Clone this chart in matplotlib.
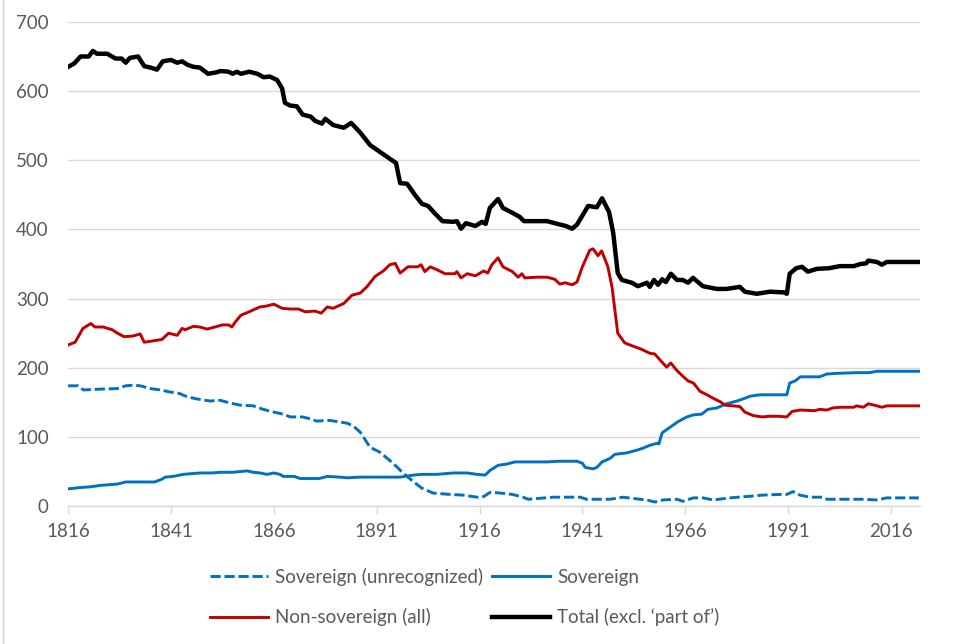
import matplotlib.pyplot as plt
from matplotlib.lines import Line2D

plt.rcParams['font.family'] = ['Lato', 'DejaVu Sans']

# Total (excl. 'part of') - breakpoints
total_years = [1816, 1817.5, 1819, 1821, 1822, 1823, 1825.5, 1827.5, 1829, 1830, 1831, 1833,
               1834.5, 1836, 1837.6, 1839, 1841, 1842.5, 1843.7, 1845, 1846.5, 1848, 1850,
               1852, 1853, 1855, 1856, 1857, 1858, 1860, 1862, 1863.5, 1865, 1866.8, 1868,
               1868.7, 1870, 1871.6, 1873, 1875, 1876, 1877.7, 1878.5, 1880.4, 1883, 1884.8,
               1887, 1889.4, 1891.8, 1894, 1895.7, 1896.7, 1898.4, 1900.3, 1902, 1903.5, 1905,
               1907, 1909.6, 1910.5, 1911.5, 1912.7, 1915, 1916.6, 1917.5, 1918.5, 1920.5,
               1921.7, 1924, 1925.8, 1926.8, 1930, 1932.4, 1935.6, 1937, 1938.5, 1939.7,
               1942.4, 1944.5, 1945.8, 1947.5, 1948.5, 1949.6, 1950.6, 1953, 1954.5, 1956.7,
               1957.4, 1958.4, 1959.4, 1960.4, 1961.3, 1962.5, 1964, 1965.4, 1966.7, 1967.9,
               1970.3, 1973.7, 1976, 1979.3, 1980.5, 1983.4, 1986.6, 1990, 1990.7, 1991.4,
               1993, 1994.4, 1995.8, 1998, 2001, 2003.6, 2007, 2008.6, 2010, 2010.5, 2012.6,
               2013.8, 2015, 2022.8]
total_vals = [635, 640, 650, 650, 658, 654, 654, 647, 647, 641, 648, 650,
              636, 634, 631, 643, 645, 641, 643, 638, 635, 634, 625,
              627, 629, 628, 625, 628, 625, 628, 625, 620, 621, 616, 604,
              583, 579, 578, 566, 563, 557, 553, 560, 551, 547, 554,
              540, 522, 512, 503, 496, 467, 466, 450, 437, 434, 424,
              412, 411, 412, 401, 409, 405, 411, 408, 431, 444,
              431, 424, 418, 412, 412, 412, 407, 405, 401, 407,
              434, 432, 445, 425, 395, 337, 327, 323, 318, 323,
              317, 327, 320, 328, 324, 336, 327, 327, 323, 330,
              318, 314, 314, 317, 310, 307, 310, 309, 307, 336,
              344, 346, 339, 343, 344, 347, 347, 350, 351, 355, 353,
              349, 353, 353]

# Non-sovereign (all)
nonsov_years = [1816, 1817.7, 1819.6, 1821.5, 1822.5, 1824.5, 1826.7, 1828, 1829.6, 1831.8,
                1833.5, 1834.5, 1836.7, 1838.8, 1840.4, 1842.5, 1843.7, 1844.4, 1846.5, 1848,
                1849.8, 1851.7, 1853.4, 1855, 1855.8, 1856.6, 1858, 1860, 1862.6, 1864, 1866,
                1868, 1870, 1872, 1873.6, 1876, 1877.5, 1879, 1880.4, 1883, 1885, 1887,
                1888.6, 1890.6, 1892.6, 1894.2, 1895.5, 1896.7, 1898.6, 1901, 1901.8, 1902.7,
                1904, 1905.6, 1907.6, 1910, 1910.5, 1911.5, 1913, 1915, 1917, 1918, 1919,
                1920.5, 1921.7, 1924, 1925.4, 1926.3, 1927, 1930, 1932.4, 1934.3, 1935.5,
                1936.8, 1938.5, 1939.7, 1941, 1942.8, 1943.6, 1944.8, 1945.7, 1947.2, 1948.2,
                1949, 1949.6, 1951.3, 1953, 1955.3, 1957.4, 1958.6, 1960.4, 1961.5, 1962.5,
                1964, 1965.4, 1966.7, 1968, 1969.6, 1971.3, 1972.8, 1974.5, 1975.7, 1977.7,
                1979.3, 1980.5, 1982.5, 1984.7, 1986.6, 1988.5, 1990.7, 1992, 1994, 1997.5,
                1998.7, 2000.4, 2001.9, 2003.6, 2007, 2007.7, 2009.3, 2010.5, 2012, 2013.8,
                2015, 2022.8]
nonsov_vals = [233, 237, 257, 264, 259, 259, 255, 250, 245, 246,
               249, 237, 239, 241, 250, 247, 257, 255, 260, 259,
               256, 259, 262, 262, 259, 266, 276, 281, 288, 289, 292,
               286, 285, 285, 281, 282, 279, 288, 286, 293, 305, 308,
               317, 332, 340, 349, 351, 337, 346, 346, 349, 339,
               346, 342, 336, 336, 339, 330, 336, 333, 340, 337, 349,
               359, 346, 339, 331, 336, 330, 331, 331, 328, 321,
               323, 320, 324, 346, 370, 372, 362, 369, 346, 317,
               279, 250, 236, 232, 227, 221, 220, 208, 201, 207,
               196, 188, 181, 178, 166, 161, 156, 151, 146, 145,
               144, 136, 131, 129, 130, 130, 129, 137, 139, 138,
               140, 139, 142, 143, 143, 145, 143, 148, 146, 143,
               145, 145]

# Sovereign
sov_years = [1816, 1819, 1821.4, 1823.8, 1828, 1830, 1837, 1838.8, 1839.6, 1841.5, 1844,
             1848, 1851, 1853, 1856, 1859.5, 1861, 1862.7, 1864.3, 1866, 1867.5, 1868.3,
             1871, 1872.4, 1877, 1879, 1882, 1883.8, 1887, 1893.5, 1896.7, 1900, 1902,
             1905.6, 1909.6, 1912, 1913, 1915.4, 1917.4, 1918.6, 1920.5, 1922.7, 1924.6,
             1927.5, 1932.4, 1935.5, 1939.7, 1941, 1941.7, 1943.6, 1944.5, 1945.8, 1947.7,
             1948.9, 1951.8, 1954.3, 1955.8, 1957.4, 1959.2, 1959.6, 1960.4, 1962.3, 1964.2,
             1966.4, 1968, 1970, 1971.5, 1973.7, 1976, 1978.6, 1980.5, 1981.8, 1984.2,
             1990.7, 1991.4, 1992.7, 1994, 1998.7, 2000.4, 2002.8, 2007.7, 2010.8, 2012.6,
             2022.8]
sov_vals = [25, 27, 28, 30, 32, 35, 35, 39, 42, 43, 46,
            48, 48, 49, 49, 51, 49, 48, 46, 48, 46, 43,
            43, 40, 40, 43, 42, 41, 42, 42, 42, 45, 46,
            46, 48, 48, 48, 46, 45, 52, 59, 61, 64,
            64, 64, 65, 65, 62, 56, 54, 56, 64, 69,
            75, 77, 81, 84, 88, 91, 90, 106, 114, 122,
            129, 132, 133, 140, 142, 148, 152, 156, 159, 161,
            161, 178, 181, 187, 187, 191, 192, 193, 193, 195,
            195]

# Sovereign (unrecognized)
unrec_years = [1816, 1818.4, 1819.7, 1823, 1828, 1830, 1832, 1833.5, 1836, 1838.4, 1840.8,
               1843, 1845, 1847.3, 1850.5, 1853, 1855.4, 1857.8, 1861, 1863.4, 1866, 1868.3,
               1870, 1873, 1874.3, 1876.4, 1879.6, 1883.8, 1885.3, 1887, 1889.4, 1891.8, 1895,
               1897.4, 1900, 1902, 1904.7, 1908.8, 1912, 1915.4, 1917, 1918.6, 1921, 1924,
               1926.6, 1927.8, 1934, 1940.5, 1942, 1947.7, 1950.9, 1955, 1956.7, 1958.6,
               1960.6, 1964, 1965.4, 1968, 1970.3, 1972.8, 1976.9, 1981, 1984.9, 1989, 1990.7,
               1992.2, 1993.9, 1996.4, 1999.3, 2000.4, 2009.3, 2012.6, 2015, 2022.8]
unrec_vals = [174, 174, 168, 169, 170, 174, 175, 174, 170, 168, 165,
              163, 158, 155, 152, 153, 149, 146, 145, 140, 136, 133,
              129, 129, 127, 123, 124, 120, 116, 107, 85, 78, 62,
              48, 35, 26, 19, 17, 16, 13, 14, 20, 19, 17,
              13, 10, 13, 13, 10, 10, 13, 10, 9, 6,
              9, 10, 7, 12, 12, 9, 12, 14, 16, 17, 17,
              21, 16, 13, 13, 10, 10, 9, 12, 12]

x_ticks = [1816, 1841, 1866, 1891, 1916, 1941, 1966, 1991, 2016]
y_ticks = [0, 100, 200, 300, 400, 500, 600, 700]

blue = '#0070c0'
red = '#c00000'
grey_text = '#595959'

fig = plt.figure(figsize=(9.6, 6.44), dpi=100)
ax = fig.add_axes([0.071, 0.214, 0.887, 0.752])

l_unrec, = ax.plot(unrec_years, unrec_vals, color=blue, lw=2.1, dashes=(3.5, 1.3),
                   label='Sovereign (unrecognized)')
l_sov, = ax.plot(sov_years, sov_vals, color=blue, lw=2.1, label='Sovereign')
l_non, = ax.plot(nonsov_years, nonsov_vals, color=red, lw=2.1, label='Non-sovereign (all)')
l_tot, = ax.plot(total_years, total_vals, color='black', lw=3.2, label='Total (excl. \u2018part of\u2019)')

ax.set_xlim(1816, 2023)
ax.set_ylim(0, 700)
ax.set_xticks(x_ticks)
ax.set_yticks(y_ticks)
ax.yaxis.grid(True, color='#d9d9d9', lw=1.0)
ax.set_axisbelow(True)
for side in ['top', 'right', 'left']:
    ax.spines[side].set_visible(False)
ax.spines['bottom'].set_color('#d9d9d9')
ax.spines['bottom'].set_linewidth(1.0)
ax.tick_params(axis='x', colors='#d9d9d9', length=6, width=1.0, labelcolor=grey_text,
               labelsize=13.5, pad=6)
ax.tick_params(axis='y', length=0, labelcolor=grey_text, labelsize=13.5, pad=14)

fig.legend(handles=[l_unrec, l_non, l_sov, l_tot], loc='lower center', ncol=2,
           bbox_to_anchor=(0.484, 0.001), frameon=False, fontsize=13.5,
           labelcolor=grey_text, handlelength=3.1, handletextpad=0.37,
           columnspacing=0.5, labelspacing=1.2)

# thin grey frame line on the left edge of the picture
fig.add_artist(Line2D([0.003, 0.003], [0, 1], transform=fig.transFigure,
                      color='#d0d0d0', lw=1.0))

fig.savefig('out.png', dpi=100)
